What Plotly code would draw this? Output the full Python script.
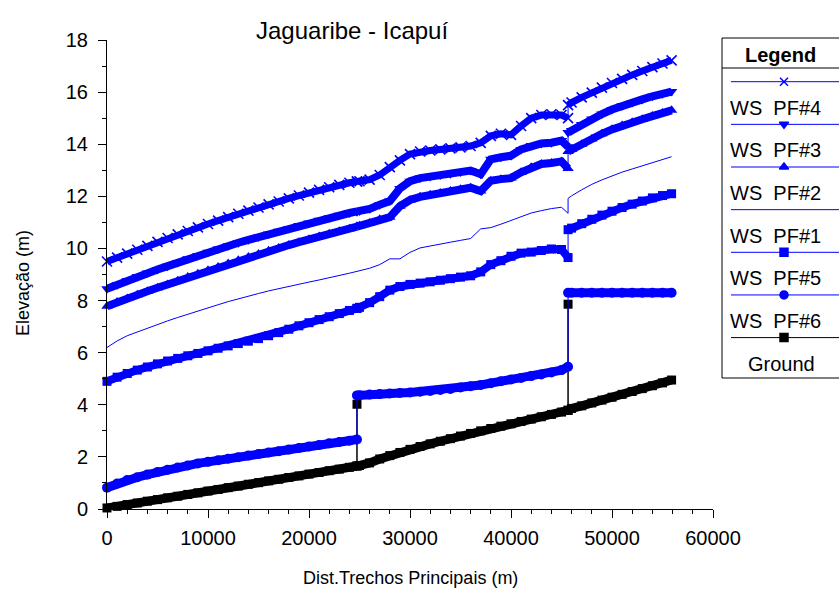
import plotly.graph_objects as go

# ---------------- data ----------------
dist = [0, 1000, 2000, 3000, 4000, 5000, 6000, 7000, 8000, 9000, 10000, 11000, 12000,
        13000, 14000, 15000, 16000, 17000, 18000, 19000, 20000, 21000, 22000, 23000, 24000,
        24750, 24750,
        25000, 26000, 27000, 28000, 29000, 30000, 31000, 32000, 33000, 34000, 35000, 36000,
        37000, 38000, 39000, 40000, 41000, 42000, 43000, 44000, 45000,
        45650, 45650,
        46000, 47000, 48000, 49000, 50000, 51000, 52000, 53000, 54000, 55000, 55900]

ws_pf4 = [9.5, 9.65, 9.8, 9.95, 10.1, 10.25, 10.4, 10.54, 10.67, 10.81, 10.94, 11.07, 11.2,
          11.33, 11.45, 11.57, 11.69, 11.8, 11.92, 12.03, 12.14, 12.25, 12.35, 12.44, 12.52,
          12.57, 12.57,
          12.58, 12.64, 12.82, 13.12, 13.38, 13.62, 13.72, 13.76, 13.8, 13.84, 13.88, 13.93,
          14.05, 14.32, 14.4, 14.36, 14.7, 15.0, 15.12, 15.15, 15.12,
          15.0, 15.5,
          15.6, 15.8, 15.98, 16.17, 16.35, 16.51, 16.66, 16.81, 16.96, 17.1, 17.22]

ws_pf3 = [8.45, 8.61, 8.77, 8.92, 9.06, 9.19, 9.32, 9.46, 9.6, 9.73, 9.85, 9.98, 10.1,
          10.22, 10.33, 10.44, 10.55, 10.66, 10.77, 10.88, 10.98, 11.08, 11.18, 11.27, 11.36,
          11.42, 11.42,
          11.44, 11.52, 11.68, 11.82, 12.3, 12.58, 12.7, 12.76, 12.82, 12.87, 12.93, 12.99,
          12.85, 13.42, 13.5, 13.56, 13.8, 13.95, 14.03, 14.06, 14.14,
          13.9, 14.45,
          14.53, 14.76, 14.97, 15.16, 15.33, 15.48, 15.6, 15.72, 15.84, 15.94, 16.02]

ws_pf2 = [7.78, 7.94, 8.08, 8.22, 8.36, 8.49, 8.62, 8.76, 8.9, 9.03, 9.16, 9.29, 9.42,
          9.55, 9.67, 9.79, 9.91, 10.02, 10.13, 10.24, 10.35, 10.46, 10.56, 10.66, 10.76,
          10.84, 10.84,
          10.87, 10.98, 11.12, 11.2, 11.62, 11.86, 11.98, 12.06, 12.13, 12.2, 12.27, 12.33,
          12.2, 12.6, 12.66, 12.7, 12.92, 13.12, 13.24, 13.28, 13.34,
          13.07, 13.72,
          13.8, 14.0, 14.2, 14.4, 14.57, 14.72, 14.84, 14.96, 15.08, 15.2, 15.3]

ws_pf1 = [6.2, 6.45, 6.65, 6.8, 6.94, 7.08, 7.22, 7.35, 7.48, 7.61, 7.73, 7.84, 7.96,
          8.07, 8.17, 8.27, 8.37, 8.46, 8.55, 8.63, 8.71, 8.79, 8.87, 8.96, 9.05,
          9.12, 9.12,
          9.14, 9.24, 9.38, 9.6, 9.6, 9.85, 10.02, 10.1, 10.17, 10.24, 10.31, 10.38,
          10.75, 10.8, 10.93, 11.08, 11.24, 11.36, 11.45, 11.53, 11.58,
          11.35, 11.92,
          12.02, 12.25, 12.46, 12.63, 12.79, 12.93, 13.05, 13.17, 13.3, 13.42, 13.52]

ws_pf5 = [4.9, 5.06, 5.2, 5.33, 5.45, 5.57, 5.68, 5.78, 5.88, 5.97, 6.07, 6.17, 6.26,
          6.35, 6.44, 6.54, 6.65, 6.77, 6.9, 7.03, 7.15, 7.27, 7.38, 7.5, 7.62,
          7.7, 7.7,
          7.74, 7.92, 8.15, 8.4, 8.54, 8.62, 8.67, 8.72, 8.78, 8.84, 8.9, 8.95,
          9.1, 9.38, 9.53, 9.7, 9.82, 9.86, 9.92, 9.98, 9.96,
          9.65, 10.72,
          10.78, 10.95, 11.12, 11.28, 11.43, 11.57, 11.7, 11.82, 11.94, 12.03, 12.1]

ws_pf6 = [0.82, 0.98, 1.11, 1.22, 1.32, 1.42, 1.51, 1.59, 1.67, 1.75, 1.81, 1.87, 1.93,
          1.99, 2.05, 2.11, 2.17, 2.22, 2.28, 2.34, 2.40, 2.46, 2.52, 2.57, 2.62,
          2.67, 4.36,
          4.37, 4.39, 4.41, 4.43, 4.45, 4.47, 4.5, 4.53, 4.57, 4.61, 4.66, 4.71,
          4.76, 4.83, 4.9, 4.97, 5.03, 5.1, 5.16, 5.24, 5.33,
          5.46, 8.3,
          8.3, 8.3, 8.3, 8.3, 8.3, 8.3, 8.3, 8.3, 8.3, 8.3, 8.3]

ground_dist = [0, 1000, 2000, 3000, 4000, 5000, 6000, 7000, 8000, 9000, 10000, 11000, 12000,
               13000, 14000, 15000, 16000, 17000, 18000, 19000, 20000, 21000, 22000, 23000, 24000,
               24750, 24750, 24750,
               25000, 26000, 27000, 28000, 29000, 30000, 31000, 32000, 33000, 34000, 35000, 36000,
               37000, 38000, 39000, 40000, 41000, 42000, 43000, 44000, 45000,
               45650, 45650, 45650,
               46000, 47000, 48000, 49000, 50000, 51000, 52000, 53000, 54000, 55000, 55900]

ground_elev = [0.04, 0.10, 0.17, 0.23, 0.30, 0.36, 0.43, 0.49, 0.56, 0.62, 0.69, 0.75, 0.82,
               0.88, 0.95, 1.01, 1.08, 1.14, 1.21, 1.27, 1.34, 1.40, 1.47, 1.53, 1.60,
               1.65, 4.02, 1.65,
               1.67, 1.77, 1.92, 2.05, 2.17, 2.29, 2.40, 2.50, 2.60, 2.70, 2.80, 2.90,
               3.00, 3.09, 3.18, 3.27, 3.36, 3.45, 3.54, 3.63, 3.72,
               3.79, 7.86, 3.79,
               3.86, 3.96, 4.07, 4.18, 4.29, 4.40, 4.51, 4.62, 4.73, 4.84, 4.95]

x_ticks = [0, 10000, 20000, 30000, 40000, 50000, 60000]
y_ticks = [0, 2, 4, 6, 8, 10, 12, 14, 16, 18]

legend_labels = ["WS\u00a0\u00a0PF#4", "WS\u00a0\u00a0PF#3", "WS\u00a0\u00a0PF#2",
                 "WS\u00a0\u00a0PF#1", "WS\u00a0\u00a0PF#5", "WS\u00a0\u00a0PF#6", "Ground"]

title_text = "Jaguaribe - Icapuí"
x_title = "Dist.Trechos Principais (m)"
y_title = "Elevação (m)"

# ---------------- styling ----------------
BLUE = "#0000FF"
BLACK = "#000000"
FONT = "Arial, Liberation Sans, sans-serif"
W, H = 839, 589
ML, MR, MT, MB = 107, 0, 30, 80
PW, PH = W - ML - MR, H - MT - MB


def pxx(x):
    return (x - ML) / PW


def pxy(y):
    return (H - MB - y) / PH


def band(xs, ys):
    """split a series where the station repeats, so thick bands do not draw vertical jumps"""
    bx, by = [], []
    for i, (x, y) in enumerate(zip(xs, ys)):
        if i > 0 and x == xs[i - 1]:
            bx.append(None)
            by.append(None)
        bx.append(x)
        by.append(y)
    return bx, by


series = [
    # (x, y, color, symbol, marker size, band width)
    (ground_dist, ground_elev, BLACK, "square", 9, 9),
    (dist, ws_pf6, BLUE, "circle", 10, 9),
    (dist, ws_pf5, BLUE, "square", 9, 8),
    (dist, ws_pf1, BLUE, None, 0, 0),
    (dist, ws_pf2, BLUE, "triangle-up", 10, 8),
    (dist, ws_pf3, BLUE, "triangle-down", 10, 8),
    (dist, ws_pf4, BLUE, "x-thin", 10, 7),
]

fig = go.Figure()
for xs, ys, col, sym, ms, bw in series:
    if bw:
        bx, by = band(xs, ys)
        fig.add_trace(go.Scatter(x=bx, y=by, mode="lines", connectgaps=False,
                                 line=dict(color=col, width=bw), showlegend=False,
                                 hoverinfo="skip", cliponaxis=False))
    if sym:
        mk = dict(symbol=sym, size=ms, color=col)
        if sym == "x-thin":
            mk["line"] = dict(color=col, width=1.6)
        fig.add_trace(go.Scatter(x=xs, y=ys, mode="lines+markers", marker=mk,
                                 line=dict(color=col, width=1), showlegend=False,
                                 cliponaxis=False))
    else:
        fig.add_trace(go.Scatter(x=xs, y=ys, mode="lines",
                                 line=dict(color=col, width=1), showlegend=False,
                                 cliponaxis=False))

# ---------------- legend (custom, drawn on its own pixel-unit axes) ----------------
LX0, LX1, LY0, LY1 = 720, 839, 36, 380
row_line_y = [81.7 + i * 42.65 for i in range(7)]
leg_syms = ["x-thin", "triangle-down", "triangle-up", None, "square", "circle", "square"]
leg_cols = [BLUE] * 6 + [BLACK]

shapes = []
annotations = []
shapes.append(dict(type="rect", xref="x2", yref="y2", x0=722, x1=850, y0=38, y1=378,
                   line=dict(color=BLACK, width=1), fillcolor="white", layer="below"))
shapes.append(dict(type="line", xref="x2", yref="y2", x0=722, x1=850, y0=68, y1=68,
                   line=dict(color=BLACK, width=1)))
annotations.append(dict(xref="x2", yref="y2", x=780, y=55, text="<b>Legend</b>",
                        showarrow=False, font=dict(family=FONT, size=20, color=BLACK),
                        xanchor="center", yanchor="middle"))
sym_x, sym_y, sym_s, sym_c = [], [], [], []
for i, (lab, ly) in enumerate(zip(legend_labels, row_line_y)):
    shapes.append(dict(type="line", xref="x2", yref="y2", x0=731, x1=850, y0=ly, y1=ly,
                       line=dict(color=leg_cols[i], width=1)))
    if leg_syms[i]:
        sym_x.append(784)
        sym_y.append(ly)
        sym_s.append(leg_syms[i])
        sym_c.append(leg_cols[i])
    if lab == "Ground":
        annotations.append(dict(xref="x2", yref="y2", x=781, y=ly + 26, text=lab,
                                showarrow=False, font=dict(family=FONT, size=20, color=BLACK),
                                xanchor="center", yanchor="middle"))
    else:
        annotations.append(dict(xref="x2", yref="y2", x=728, y=ly + 26, text=lab,
                                showarrow=False, font=dict(family=FONT, size=20, color=BLACK),
                                xanchor="left", yanchor="middle"))

fig.add_trace(go.Scatter(x=sym_x, y=sym_y, mode="markers", xaxis="x2", yaxis="y2",
                         marker=dict(symbol=sym_s, size=8, color=sym_c,
                                     line=dict(color=sym_c, width=1.5)),
                         showlegend=False, hoverinfo="skip", cliponaxis=False))

# titles
annotations.append(dict(xref="paper", yref="paper", x=pxx(352), y=pxy(30), text=title_text,
                        showarrow=False, font=dict(family=FONT, size=24, color=BLACK),
                        xanchor="center", yanchor="middle"))
annotations.append(dict(xref="paper", yref="paper", x=pxx(410), y=pxy(578), text=x_title,
                        showarrow=False, font=dict(family=FONT, size=18, color=BLACK),
                        xanchor="center", yanchor="middle"))
annotations.append(dict(xref="paper", yref="paper", x=pxx(23), y=pxy(283), text=y_title,
                        showarrow=False, textangle=-90,
                        font=dict(family=FONT, size=18, color=BLACK),
                        xanchor="center", yanchor="middle"))

axis_common = dict(showgrid=False, zeroline=False, showline=True, linecolor=BLACK,
                   linewidth=1, ticks="outside", ticklen=8, tickwidth=1, tickcolor=BLACK,
                   tickfont=dict(family=FONT, size=20, color=BLACK), mirror=False,
                   automargin=False)

fig.update_layout(
    template="none",
    width=W, height=H, autosize=False,
    margin=dict(l=ML, r=MR, t=MT, b=MB, pad=0, autoexpand=False),
    plot_bgcolor="white", paper_bgcolor="white",
    showlegend=False,
    font=dict(family=FONT, color=BLACK),
    xaxis=dict(range=[0, 60000], domain=[0, 606 / PW], tickvals=x_ticks,
               ticktext=[str(v) for v in x_ticks], ticklabelstandoff=3,
               minor=dict(dtick=2000, ticklen=4, ticks="outside", tickcolor=BLACK,
                          showgrid=False),
               **axis_common),
    yaxis=dict(range=[0, 18], domain=[0, (H - MB - 40) / PH], tickvals=y_ticks,
               ticktext=[str(v) for v in y_ticks], ticklabelstandoff=6,
               minor=dict(dtick=1, ticklen=4, ticks="outside", tickcolor=BLACK,
                          showgrid=False),
               **axis_common),
    xaxis2=dict(range=[LX0, LX1], domain=[pxx(LX0), 1.0], visible=False, fixedrange=True,
                automargin=False, anchor="y2"),
    yaxis2=dict(range=[LY1, LY0], domain=[pxy(LY1), pxy(LY0)], visible=False,
                fixedrange=True, anchor="x2", automargin=False),
    shapes=shapes,
    annotations=annotations,
)

fig.write_html(
    "out.html",
    config={"responsive": False, "displayModeBar": False},
    post_script="document.body.style.margin='0';document.body.style.padding='0';"
                "document.documentElement.style.overflow='hidden';",
)
